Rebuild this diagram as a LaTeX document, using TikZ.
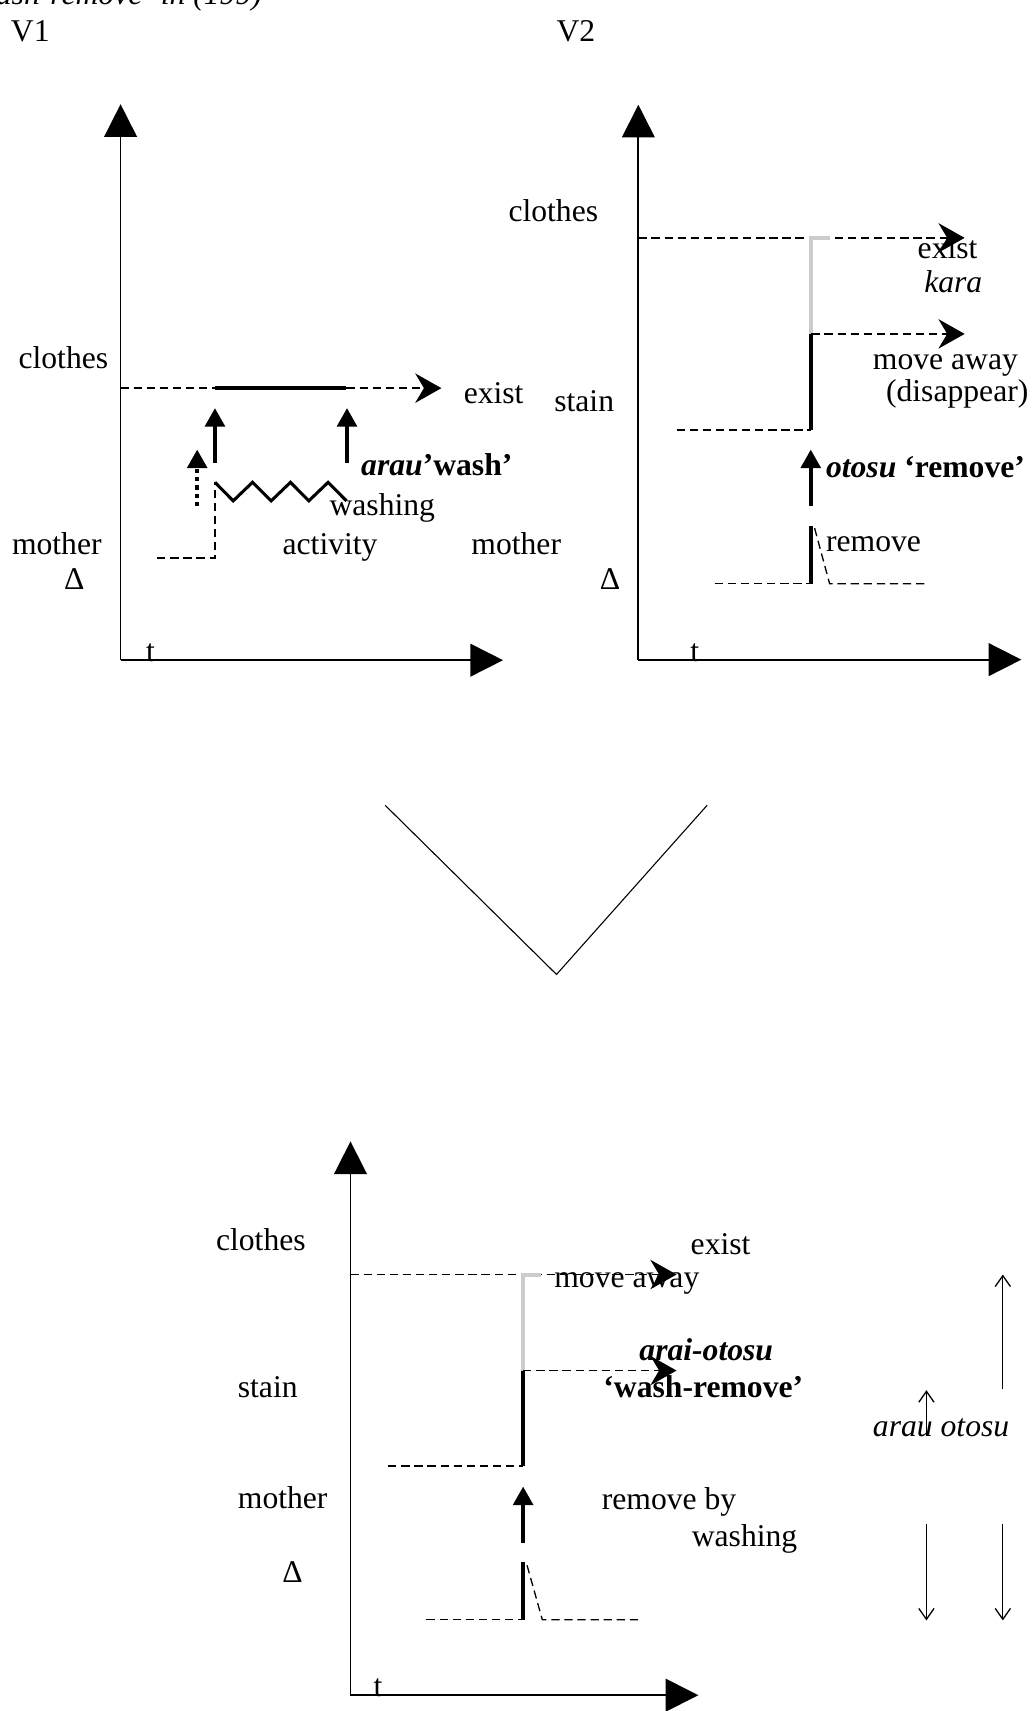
\documentclass[tikz,border=0pt]{standalone}
\usepackage{fontspec}
\setmainfont{Liberation Serif}
\usetikzlibrary{arrows.meta}
\begin{document}
\begin{tikzpicture}[x=0.5pt,y=-0.5pt,
  lbl/.style={font=\fontsize{14.5}{17}\selectfont, inner sep=0pt, outer sep=0pt},
  axis/.style={line width=0.8pt, -{Triangle[length=15pt,width=15pt]}},
  dashln/.style={line width=0.6pt, dash pattern=on 3.8pt off 2.2pt},
  dasharrow/.style={dashln, -{Stealth[length=12pt,width=13.5pt,inset=4pt]}},
  heavy/.style={line width=1.85pt},
  heavyarrow/.style={heavy, -{Triangle[length=8.5pt,width=9pt]}},
  dotarrow/.style={line width=1.85pt, dash pattern=on 2pt off 1.8pt, -{Triangle[length=8.5pt,width=9pt]}},
  zigzagln/.style={line width=1.4pt, line join=miter},
  greyln/.style={line width=1.85pt, draw=black!20},
  thinarrow/.style={line width=0.6pt, -{Straight Barb[length=5pt,width=7pt]}},
  vee/.style={line width=0.5pt},
]
\useasboundingbox (0,0) rectangle (948,1568);
\clip (0,0) rectangle (948,1568);

% heading line, cut off at the top edge
\node[lbl, anchor=base east] (hdr) at (240,4) {\itshape ‘wash-remove’ in (199)};

\node[lbl, anchor=base west] (v1) at (10,38) {V1};
\node[lbl, anchor=base west] (v2) at (510,38) {V2};

% ---------------- V1: arau 'wash' ----------------
\coordinate (o1) at (110.5,605);
\coordinate (y1) at (110.5,95.5);
\coordinate (x1) at (461,605);
\draw[axis] (o1) -- (y1);
\draw[axis] (o1) -- (x1);
\node[lbl, anchor=base] (t1) at (138,606) {t};

\node[lbl, anchor=base west] (clo1) at (17,338) {clothes};
\node[lbl, anchor=base west] (mom1) at (11,508) {mother};
\node[lbl, anchor=base] (del1) at (68,540) {Δ};
\node[lbl, anchor=base west] (ex1) at (425,370) {exist};
\node[lbl, anchor=base west] (arau1) at (331,436) {\textbf{\textit{arau}’wash’}};
\node[lbl, anchor=base west] (wash1) at (302,472) {washing};
\node[lbl, anchor=base west] (act1) at (259,508) {activity};

\coordinate (e1a) at (110.5,355.7);
\coordinate (e1b) at (197,355.7);
\coordinate (e1c) at (317.5,355.7);
\coordinate (e1d) at (404.5,355.7);
\draw[dashln] (e1a) -- (e1b);
\draw[heavy] (e1b) -- (e1c);
\draw[dasharrow] (e1c) -- (e1d);

\coordinate (u1a) at (197,424);
\coordinate (u1b) at (197,374);
\coordinate (u2a) at (318,424);
\coordinate (u2b) at (318,374);
\draw[heavyarrow] (u1a) -- (u1b);
\draw[heavyarrow] (u2a) -- (u2b);

\coordinate (d1a) at (180.7,464);
\coordinate (d1b) at (180.7,412);
\draw[dotarrow] (d1a) -- (d1b);

\coordinate (z0) at (197,442);
\draw[zigzagln] (z0) -- (213.7,459) -- (231.4,442) -- (248.5,459) -- (266.2,442)
  -- (283,459) -- (300.7,442) -- (317.5,459);
\coordinate (s1a) at (144,511.4);
\coordinate (s1b) at (197,511.4);
\draw[dashln] (s1a) -- (s1b) -- (z0);

% ---------------- V2: otosu 'remove' ----------------
\coordinate (o2) at (585,604.5);
\coordinate (y2) at (585,96);
\coordinate (x2) at (936,604.5);
\draw[axis] (o2) -- (y2);
\draw[axis] (o2) -- (x2);
\node[lbl, anchor=base] (t2) at (636.6,606) {t};

\node[lbl, anchor=base west] (clo2) at (466,203) {clothes};
\node[lbl, anchor=base west] (stn2) at (508,377) {stain};
\node[lbl, anchor=base west] (mom2) at (432,508) {mother};
\node[lbl, anchor=base] (del2) at (559,540) {Δ};
\node[lbl, anchor=base west] (ex2) at (841,237) {exist};
\node[lbl, anchor=base west] (kara2) at (847,268) {\itshape kara};
\node[lbl, anchor=base west] (mv2) at (800,339) {move away};
\node[lbl, anchor=base west] (dis2) at (812,368) {(disappear)};
\node[lbl, anchor=base west] (oto2) at (757,438) {\textbf{\textit{otosu} ‘remove’}};
\node[lbl, anchor=base west] (rem2) at (757,505) {remove};

\coordinate (c2a) at (585,218);
\coordinate (c2b) at (884,218);
\draw[dasharrow] (c2a) -- (c2b);
\coordinate (g2a) at (760.3,218);
\coordinate (g2b) at (743.5,218);
\coordinate (g2c) at (743.5,306);
\coordinate (g2d) at (743.5,394);
\draw[greyln] (g2a) -- (g2b) -- (g2c);
\draw[heavy] (g2c) -- (g2d);
\coordinate (m2b) at (884,306);
\draw[dasharrow] (g2c) -- (m2b);
\coordinate (s2a) at (620,394);
\draw[dashln] (s2a) -- (g2d);

\coordinate (a2a) at (743,464);
\coordinate (a2b) at (743,412);
\draw[heavyarrow] (a2a) -- (a2b);
\coordinate (b2a) at (743,482.4);
\coordinate (b2b) at (743,535);
\draw[heavy] (b2a) -- (b2b);
\coordinate (r2a) at (746.5,484);
\coordinate (r2b) at (760.3,535);
\coordinate (r2c) at (850.3,535);
\draw[dashln] (r2a) -- (r2b) -- (r2c);
\coordinate (l2a) at (655,535);
\draw[dashln] (l2a) -- (b2b);

% ---------------- the two combine ----------------
\coordinate (va) at (353,738);
\coordinate (vb) at (510,893);
\coordinate (vc) at (648,738);
\draw[vee] (va) -- (vb) -- (vc);

% ---------------- arai-otosu 'wash-remove' ----------------
\coordinate (o3) at (321.2,1553.5);
\coordinate (y3) at (321.2,1046);
\coordinate (x3) at (640,1553.5);
\draw[axis] (o3) -- (y3);
\draw[axis] (o3) -- (x3);
\node[lbl, anchor=base] (t3) at (346.5,1555) {t};

\node[lbl, anchor=base west] (clo3) at (198,1146) {clothes};
\node[lbl, anchor=base west] (stn3) at (218,1281) {stain};
\node[lbl, anchor=base west] (mom3) at (218,1382) {mother};
\node[lbl, anchor=base] (del3) at (268,1450) {Δ};
\node[lbl, anchor=base west] (ex3) at (633,1150) {exist};
\node[lbl, anchor=base west] (mv3) at (508,1180) {move away};
\node[lbl, anchor=base west] (ar3) at (586,1247) {\textbf{\textit{arai-otosu}}};
\node[lbl, anchor=base west] (wr3) at (553,1281) {\textbf{‘wash-remove’}};
\node[lbl, anchor=base west] (rb3) at (551.5,1383) {remove by};
\node[lbl, anchor=base west] (wg3) at (634,1417) {washing};

\coordinate (c3a) at (321.2,1168);
\coordinate (c3b) at (620,1168);
\draw[dasharrow] (c3a) -- (c3b);
\coordinate (g3a) at (496.2,1168);
\coordinate (g3b) at (479.4,1168);
\coordinate (g3c) at (479.4,1256);
\coordinate (g3d) at (479.4,1343.4);
\draw[greyln] (g3a) -- (g3b) -- (g3c);
\draw[heavy] (g3c) -- (g3d);
\coordinate (m3b) at (620,1256);
\draw[dasharrow] (g3c) -- (m3b);
\coordinate (s3a) at (355.7,1343.4);
\draw[dashln] (s3a) -- (g3d);

\coordinate (a3a) at (479.4,1413.6);
\coordinate (a3b) at (479.4,1362.3);
\draw[heavyarrow] (a3a) -- (a3b);
\coordinate (b3a) at (479.4,1431.3);
\coordinate (b3b) at (479.4,1484.4);
\draw[heavy] (b3a) -- (b3b);
\coordinate (r3a) at (483,1434.5);
\coordinate (r3b) at (497,1484.4);
\coordinate (r3c) at (586.2,1484.4);
\draw[dashln] (r3a) -- (r3b) -- (r3c);
\coordinate (l3a) at (390.8,1484.4);
\draw[dashln] (l3a) -- (b3b);

% scope of each verb
\node[lbl, anchor=base west] (ao3) at (800,1316) {\itshape arau otosu};
\coordinate (p1a) at (919,1273);
\coordinate (p1b) at (919,1168);
\coordinate (p2a) at (849,1316);
\coordinate (p2b) at (849,1274);
\coordinate (q1a) at (849,1397);
\coordinate (q1b) at (849,1485);
\coordinate (q2a) at (919,1397);
\coordinate (q2b) at (919,1485);
\draw[thinarrow] (p1a) -- (p1b);
\draw[thinarrow] (p2a) -- (p2b);
\draw[thinarrow] (q1a) -- (q1b);
\draw[thinarrow] (q2a) -- (q2b);
\end{tikzpicture}
\end{document}
